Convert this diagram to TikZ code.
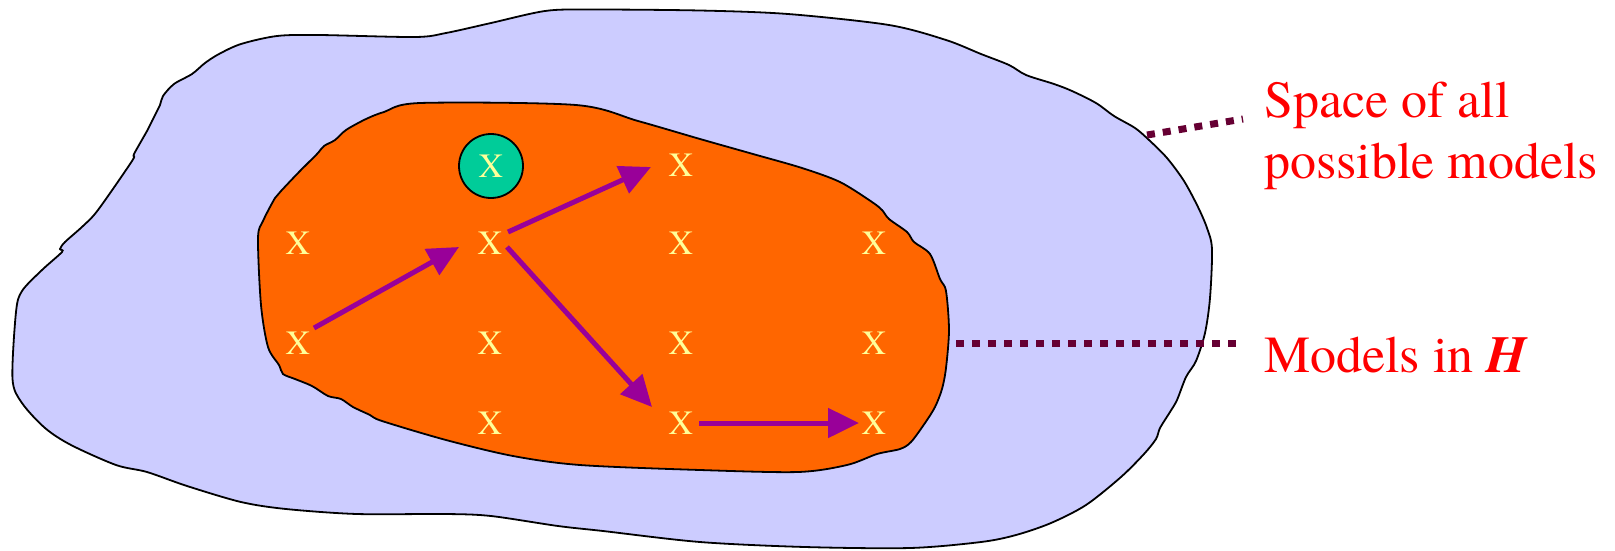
\documentclass[tikz,border=0pt]{standalone}
\usepackage{fontspec}
\setmainfont{TeX Gyre Termes}
\usetikzlibrary{arrows.meta,calc}
\definecolor{outerfill}{HTML}{CCCCFF}
\definecolor{innerfill}{HTML}{FF6600}
\definecolor{greenfill}{HTML}{00CC99}
\definecolor{xcol}{HTML}{FFFF99}
\definecolor{arrcol}{HTML}{990099}
\definecolor{dotcol}{HTML}{660033}
\definecolor{labcol}{HTML}{FF0000}
\tikzset{
  blob/.style={draw=black, line width=1.8pt},
  xmark/.style={text=xcol, font=\fontsize{34}{40}\selectfont, inner sep=0pt},
  bigcircle/.style={circle, draw=black, line width=1.8pt, fill=greenfill, minimum size=64pt, inner sep=0pt},
  move/.style={draw=arrcol, line width=5pt, -{Triangle[length=31pt,width=29pt]}},
  pointer/.style={draw=dotcol, line width=7pt, dash pattern=on 8pt off 8pt},
  lbl/.style={text=labcol, font=\fontsize{52}{61}\selectfont, inner sep=0pt, align=left}
}
\begin{document}
\begin{tikzpicture}[x=1pt,y=-1pt]
\useasboundingbox (0,0) rectangle (1615,550);
% outer space
\draw[blob, fill=outerfill] plot[smooth cycle, tension=0.5] coordinates {
 (319,35) (415,37) (446,33) (491,23) (545,11) (589,9.5) (700,10.5) (788,14) (889,25)
 (946,40) (981,54) (1009,65) (1026,75) (1054,84) (1072,91) (1096,103) (1114,116)
 (1135,128) (1149,140) (1167,158) (1184,181) (1198,207) (1207,228) (1212,249)
 (1210,298) (1205,333) (1196,361) (1186,377) (1177,400) (1170,412) (1160,428)
 (1156,439) (1144,454) (1121,477) (1086,505) (1051,523) (1016,535) (981,542)
 (910,548) (805,547) (700,542) (603,531) (558,526) (491,516) (446,514) (357,514)
 (286,509) (241,502) (187,486) (147,472) (116,465) (71,445) (45,428) (22,403)
 (12.5,379) (16,312) (22,291) (42,270) (62,252) (60,249) (65,242) (83,226) (98,210)
 (132,161) (134,154) (147,131) (152,121) (160,105) (163,96) (174,84) (192,74)
 (205,63) (219,54) (241,44) (277,36)};
% hypothesis space
\draw[blob, fill=innerfill] plot[smooth cycle, tension=0.5] coordinates {
 (420,103) (576,105) (638,121) (700,139) (753,154) (802,168) (840,182) (872,202)
 (882,210) (889,219) (907,232) (914,242) (930,254) (940,279) (946,291) (949,330)
 (946,368) (942,389) (935,407) (925,423) (911,442) (900,449) (877,454) (847,465)
 (798,472) (700,470) (580,465) (513,456) (446,440) (382,421) (370,415) (353,407)
 (341,399) (328,396) (312,386) (295,379) (283,374) (279,365) (268,347) (261,305)
 (258,238) (263,221) (275,198) (281,191) (299,172) (317,154) (324,146) (335,140)
 (346,130) (366,119) (384,112)};
% models
\node[bigcircle] (g) at (491,166) {};
\node[xmark] (g0) at (491,166) {X};
\node[xmark] (a2) at (298,243) {X};
\node[xmark] (a3) at (298,343) {X};
\node[xmark] (b2) at (490,243) {X};
\node[xmark] (b3) at (490,343) {X};
\node[xmark] (b4) at (490,423) {X};
\node[xmark] (c1) at (681,165) {X};
\node[xmark] (c2) at (681,243) {X};
\node[xmark] (c3) at (681,343) {X};
\node[xmark] (c4) at (681,423) {X};
\node[xmark] (d2) at (874,243) {X};
\node[xmark] (d3) at (874,343) {X};
\node[xmark] (d4) at (874,423) {X};
% search moves
\draw[move] ($(a3)+(16,-15)$) -- ($(b2)+(-31,4)$);
\draw[move] ($(b2)+(18,-11)$) -- ($(c1)+(-30,2)$);
\draw[move] ($(b2)+(17,4)$) -- ($(c4)+(-29,-16)$);
\draw[move] ($(c4)+(18,0)$) -- ($(d4)+(-15,0)$);
% labels
\node[lbl, anchor=base west] (lspace) at (1264,178) {Space of all\\possible models};
\node[lbl, anchor=base west] (lh) at (1264,372) {Models in \textbf{\textit{H}}};
\coordinate (p1) at (1147,135);
\coordinate (q1) at (1243,119);
\coordinate (p2) at (956,343);
\coordinate (q2) at (1237,343);
\draw[pointer] (p1) -- (q1);
\draw[pointer] (p2) -- (q2);
\end{tikzpicture}
\end{document}
